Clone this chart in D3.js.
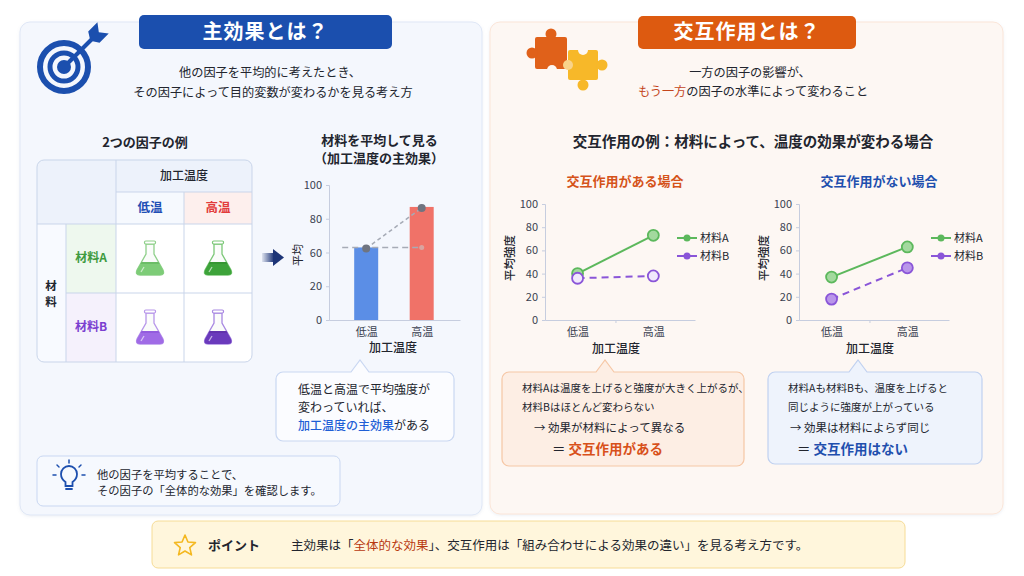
<!DOCTYPE html>
<html>
<head>
<meta charset="UTF-8">
<style>
  body { margin: 0; background: #fff; }
  svg { display: block; font-family: "Noto Sans CJK JP", "Noto Sans", sans-serif; }
  .axis path, .axis line { stroke: #c6cddf; }
  .axis text { font-family: "Noto Sans CJK JP", "Noto Sans", sans-serif; fill: #3a3f50; }
</style>
</head>
<body>
<script src="https://cdn.jsdelivr.net/npm/d3@7"></script>
<script>
// data
var levels = ["低温", "高温"];
var materials = ["材料A", "材料B"];
var mainMeans = [63, 87];
var mainTicks = [0, 20, 60, 80, 100];
var withA = [40, 73];
var withB = [36, 38];
var withoutA = [37, 63];
var withoutB = [18, 45];
var lineTicks = [0, 20, 40, 60, 80, 100];

var W = 1024, H = 576;
var svg = d3.select("body").append("svg").attr("width", W).attr("height", H);

var defs = svg.append("defs");
var sh = defs.append("filter").attr("id", "sh").attr("x", "-5%").attr("y", "-5%").attr("width", "110%").attr("height", "115%");
sh.append("feDropShadow").attr("dx", 0).attr("dy", 1).attr("stdDeviation", 1.5).attr("flood-color", "#8090b0").attr("flood-opacity", 0.15);
var ag = defs.append("linearGradient").attr("id", "arrowGrad");
ag.append("stop").attr("offset", "0%").attr("stop-color", "#1d3577").attr("stop-opacity", 0.1);
ag.append("stop").attr("offset", "100%").attr("stop-color", "#1d3577");

function rich(x, y, parts, o) {
  o = o || {};
  var t = svg.append("text").attr("x", x).attr("y", y)
    .attr("font-size", o.size || 12)
    .attr("text-anchor", o.anchor || "start")
    .attr("fill", o.fill || "#222")
    .attr("font-weight", o.weight || 400);
  if (o.ls) t.attr("letter-spacing", o.ls);
  parts.forEach(function (p) {
    var s = t.append("tspan").text(p[0]);
    if (p[1]) s.attr("fill", p[1]);
    if (p[2]) s.attr("font-weight", p[2]);
  });
  return t;
}
function label(x, y, str, o) { return rich(x, y, [[str]], o); }

function callout(x, y, w, h, tipX, fill, stroke) {
  var p = d3.path();
  var r = 7;
  p.moveTo(x + r, y);
  p.lineTo(tipX - 9, y); p.lineTo(tipX, y - 12); p.lineTo(tipX + 9, y);
  p.lineTo(x + w - r, y); p.arcTo(x + w, y, x + w, y + r, r);
  p.lineTo(x + w, y + h - r); p.arcTo(x + w, y + h, x + w - r, y + h, r);
  p.lineTo(x + r, y + h); p.arcTo(x, y + h, x, y + h - r, r);
  p.lineTo(x, y + r); p.arcTo(x, y, x + r, y, r);
  p.closePath();
  svg.append("path").attr("d", p.toString()).attr("fill", fill).attr("stroke", stroke).attr("stroke-width", 1.2);
}

// ---------------- left panel ----------------
svg.append("rect").attr("x", 20).attr("y", 22).attr("width", 462).attr("height", 493).attr("rx", 10)
  .attr("fill", "#f4f7fd").attr("stroke", "#dfe7f6").attr("filter", "url(#sh)");
svg.append("rect").attr("x", 139).attr("y", 15).attr("width", 253).attr("height", 34).attr("rx", 5).attr("fill", "#1b4fae");
label(265.5, 39, "主効果とは？", { size: 20, anchor: "middle", fill: "#fff", weight: 700, ls: 1 });
label(270, 77, "他の因子を平均的に考えたとき、", { size: 12.2, anchor: "middle", fill: "#22252e" });
label(273, 97, "その因子によって目的変数が変わるかを見る考え方", { size: 12.2, anchor: "middle", fill: "#22252e" });

// target icon
var tg = svg.append("g").attr("transform", "translate(64,67)");
tg.append("circle").attr("r", 24).attr("fill", "none").attr("stroke", "#1b4fae").attr("stroke-width", 6);
tg.append("circle").attr("r", 14).attr("fill", "none").attr("stroke", "#1b4fae").attr("stroke-width", 5);
tg.append("circle").attr("r", 7).attr("fill", "#1b4fae");
tg.append("line").attr("x1", 0).attr("y1", 0).attr("x2", 30).attr("y2", -30).attr("stroke", "#1b4fae").attr("stroke-width", 4).attr("stroke-linecap", "round");
tg.append("path").attr("transform", "translate(32,-32) rotate(-45)")
  .attr("d", "M-8,0 L-3,-8 L10,-8 L4,0 L10,8 L-3,8 Z").attr("fill", "#1b4fae");

// table
label(145, 147, "2つの因子の例", { size: 13, anchor: "middle", weight: 700, fill: "#22252e" });
defs.append("clipPath").attr("id", "tclip").append("rect").attr("x", 37).attr("y", 160).attr("width", 215).attr("height", 202).attr("rx", 7);
var tb = svg.append("g").attr("clip-path", "url(#tclip)");
tb.append("rect").attr("x", 37).attr("y", 160).attr("width", 215).attr("height", 202).attr("fill", "#fff");
tb.append("rect").attr("x", 37).attr("y", 160).attr("width", 79).attr("height", 64).attr("fill", "#edf2fb");
tb.append("rect").attr("x", 116).attr("y", 160).attr("width", 136).attr("height", 32).attr("fill", "#edf2fb");
tb.append("rect").attr("x", 116).attr("y", 192).attr("width", 68).attr("height", 32).attr("fill", "#f6f9fe");
tb.append("rect").attr("x", 184).attr("y", 192).attr("width", 68).attr("height", 32).attr("fill", "#fdefed");
tb.append("rect").attr("x", 37).attr("y", 224).attr("width", 29).attr("height", 138).attr("fill", "#f8faff");
tb.append("rect").attr("x", 66).attr("y", 224).attr("width", 50).attr("height", 69).attr("fill", "#eef8ee");
tb.append("rect").attr("x", 66).attr("y", 293).attr("width", 50).attr("height", 69).attr("fill", "#f5f1fc");
var gl = "#c9d5ea";
tb.append("line").attr("x1", 37).attr("x2", 252).attr("y1", 224).attr("y2", 224).attr("stroke", gl);
tb.append("line").attr("x1", 116).attr("x2", 252).attr("y1", 192).attr("y2", 192).attr("stroke", gl);
tb.append("line").attr("x1", 66).attr("x2", 252).attr("y1", 293).attr("y2", 293).attr("stroke", gl);
tb.append("line").attr("x1", 66).attr("x2", 66).attr("y1", 224).attr("y2", 362).attr("stroke", gl);
tb.append("line").attr("x1", 116).attr("x2", 116).attr("y1", 160).attr("y2", 362).attr("stroke", gl);
tb.append("line").attr("x1", 184).attr("x2", 184).attr("y1", 192).attr("y2", 362).attr("stroke", gl);
svg.append("rect").attr("x", 37).attr("y", 160).attr("width", 215).attr("height", 202).attr("rx", 7).attr("fill", "none").attr("stroke", gl);

label(184, 180, "加工温度", { size: 12, anchor: "middle", fill: "#22252e", weight: 500 });
label(150, 212, levels[0], { size: 12.5, anchor: "middle", fill: "#1f4fb5", weight: 700 });
label(218, 212, levels[1], { size: 12.5, anchor: "middle", fill: "#e23c3c", weight: 700 });
label(91, 262, materials[0], { size: 12, anchor: "middle", fill: "#3f9b3f", weight: 700 });
label(91, 331, materials[1], { size: 12, anchor: "middle", fill: "#7b3fd0", weight: 700 });
label(51, 290, "材", { size: 11.5, anchor: "middle", fill: "#22252e", weight: 700 });
label(51, 306, "料", { size: 11.5, anchor: "middle", fill: "#22252e", weight: 700 });

function flask(cx, cy, liquid, liquidDark, glassStroke) {
  var g = svg.append("g").attr("transform", "translate(" + cx + "," + cy + ")");
  g.append("path").attr("d", "M-4,-15 L-4,-5 L-13,11 Q-15,16 -10,16 L10,16 Q15,16 13,11 L4,-5 L4,-15 Z")
    .attr("fill", "#f7faf7").attr("fill-opacity", 0.6).attr("stroke", glassStroke).attr("stroke-width", 1.3);
  g.append("path").attr("d", "M-8.5,3 L-13,11 Q-15,16 -10,16 L10,16 Q15,16 13,11 L8.5,3 Z").attr("fill", liquid);
  g.append("path").attr("d", "M-8.5,3 L8.5,3 L9.6,5 L-9.6,5 Z").attr("fill", liquidDark).attr("opacity", 0.35);
  g.append("rect").attr("x", -5.5).attr("y", -18).attr("width", 11).attr("height", 3).attr("rx", 1.2)
    .attr("fill", "#fff").attr("stroke", glassStroke).attr("stroke-width", 1.2);
  g.append("line").attr("x1", -1.5).attr("y1", -12).attr("x2", -1.5).attr("y2", -4).attr("stroke", "#fff").attr("stroke-width", 1.2).attr("opacity", 0.9);
  g.append("line").attr("x1", -6).attr("y1", 8).attr("x2", -9).attr("y2", 13).attr("stroke", "#fff").attr("stroke-width", 1.3).attr("opacity", 0.6);
}
flask(150, 259, "#7dcc77", "#4aa047", "#8fd08a");
flask(218, 259, "#3da33a", "#2b7f29", "#7cc878");
flask(150, 328, "#a06be6", "#7a42cf", "#b796ea");
flask(218, 328, "#6a3abc", "#4f2592", "#a888e2");

// arrow
svg.append("rect").attr("x", 262).attr("y", 253).attr("width", 12).attr("height", 9).attr("fill", "url(#arrowGrad)");
svg.append("path").attr("d", "M273,249 L284,257.5 L273,266 Z").attr("fill", "#1d3577");

// bar chart of averaged means
label(379.5, 145, "材料を平均して見る", { size: 13, anchor: "middle", weight: 700, fill: "#22252e" });
label(379, 163, "（加工温度の主効果）", { size: 13, anchor: "middle", weight: 700, fill: "#22252e" });
var mb = 320, mt = 185;
var yMain = d3.scaleLinear().domain(mainTicks)
  .range(mainTicks.map(function (d, i) { return mb - i * (mb - mt) / (mainTicks.length - 1); }));
var xMain = d3.scaleLinear().domain([-0.67, 1.69]).range([329, 460]);
var bg = svg.append("g");
bg.append("g").attr("class", "axis").attr("transform", "translate(0," + mb + ")")
  .call(d3.axisBottom(xMain).tickValues([0, 1]).tickFormat(function (i) { return levels[i]; }).tickSize(0).tickPadding(8))
  .selectAll("text").attr("font-size", 11);
bg.append("g").attr("class", "axis").attr("transform", "translate(329,0)")
  .call(d3.axisLeft(yMain).tickValues(mainTicks).tickSize(3).tickPadding(4))
  .selectAll("text").attr("font-size", 11);
var barColors = ["#5b8ee6", "#f07268"];
bg.selectAll("rect.bar").data(mainMeans).enter().append("rect").attr("class", "bar")
  .attr("x", function (d, i) { return xMain(i) - 12; })
  .attr("width", 24)
  .attr("y", function (d) { return yMain(d); })
  .attr("height", function (d) { return mb - yMain(d); })
  .attr("fill", function (d, i) { return barColors[i]; });
bg.append("line").attr("x1", xMain(0) - 24).attr("x2", xMain(1) + 2)
  .attr("y1", yMain(mainMeans[0])).attr("y2", yMain(mainMeans[0]))
  .attr("stroke", "#a6abb6").attr("stroke-width", 1.5).attr("stroke-dasharray", "6,4");
bg.append("line").attr("x1", xMain(0)).attr("x2", xMain(1))
  .attr("y1", yMain(mainMeans[0]) + 1).attr("y2", yMain(mainMeans[1]) + 1)
  .attr("stroke", "#a6abb6").attr("stroke-width", 1.5).attr("stroke-dasharray", "4,3");
bg.append("circle").attr("cx", xMain(1)).attr("cy", yMain(mainMeans[0])).attr("r", 2.5).attr("fill", "#d9a4a0");
bg.selectAll("circle.pt").data(mainMeans).enter().append("circle").attr("class", "pt")
  .attr("cx", function (d, i) { return xMain(i); })
  .attr("cy", function (d) { return yMain(d) + 1; })
  .attr("r", 4).attr("fill", "#6f7480");
label(393, 352, "加工温度", { size: 12, anchor: "middle", fill: "#22252e", weight: 500 });
label(0, 0, "平均", { size: 11, anchor: "middle", fill: "#22252e" }).attr("transform", "translate(302,255) rotate(-90)");

// callout
callout(276, 372, 178, 69, 360, "#fbfcff", "#c9d7f2");
rich(298, 394, [["低温と高温で平均強度が"]], { size: 12, fill: "#22252e" });
rich(298, 412, [["変わっていれば、"]], { size: 12, fill: "#22252e" });
rich(298, 430, [["加工温度の主効果", "#1f5fd6", 500], ["がある"]], { size: 12, fill: "#22252e" });

// tip box
svg.append("rect").attr("x", 37).attr("y", 456).attr("width", 303).attr("height", 50).attr("rx", 6)
  .attr("fill", "#f6f9fe").attr("stroke", "#c9d7f2");
var bulb = svg.append("g").attr("transform", "translate(69,477)").attr("stroke", "#1d4fae").attr("fill", "none").attr("stroke-linecap", "round");
bulb.append("path").attr("d", "M-3.5,9 L-3.5,5 Q-8,2 -8,-3 A8,8 0 1 1 8,-3 Q8,2 3.5,5 L3.5,9 Z").attr("stroke-width", 1.8);
bulb.append("line").attr("x1", -3).attr("x2", 3).attr("y1", 12).attr("y2", 12).attr("stroke-width", 1.8);
bulb.append("line").attr("x1", 0).attr("x2", 0).attr("y1", -14).attr("y2", -17).attr("stroke-width", 1.5);
bulb.append("line").attr("x1", -10).attr("x2", -12).attr("y1", -10).attr("y2", -12).attr("stroke-width", 1.5);
bulb.append("line").attr("x1", 10).attr("x2", 12).attr("y1", -10).attr("y2", -12).attr("stroke-width", 1.5);
bulb.append("line").attr("x1", -13).attr("x2", -16).attr("y1", -2).attr("y2", -2).attr("stroke-width", 1.5);
bulb.append("line").attr("x1", 13).attr("x2", 16).attr("y1", -2).attr("y2", -2).attr("stroke-width", 1.5);
label(97, 479, "他の因子を平均することで、", { size: 11.3, fill: "#22252e" });
label(97, 495, "その因子の「全体的な効果」を確認します。", { size: 11.3, fill: "#22252e" });

// ---------------- right panel ----------------
svg.append("rect").attr("x", 490).attr("y", 22).attr("width", 513).attr("height", 492).attr("rx", 10)
  .attr("fill", "#fdf7f3").attr("stroke", "#fbe5d8").attr("filter", "url(#sh)");
svg.append("rect").attr("x", 638).attr("y", 16).attr("width", 218).attr("height", 33).attr("rx", 5).attr("fill", "#dd5a10");
label(747, 39, "交互作用とは？", { size: 20, anchor: "middle", fill: "#fff", weight: 700, ls: 1 });
label(750, 77, "一方の因子の影響が、", { size: 12.2, anchor: "middle", fill: "#22252e" });
rich(753, 96, [["もう一方", "#c4461c"], ["の因子の水準によって変わること"]], { size: 12.2, anchor: "middle", fill: "#22252e" });

// puzzle icon
var pz = svg.append("g");
pz.append("rect").attr("x", 535).attr("y", 37).attr("width", 32).attr("height", 32).attr("rx", 2).attr("fill", "#e0611a");
pz.append("circle").attr("cx", 551).attr("cy", 34).attr("r", 5.5).attr("fill", "#e0611a");
pz.append("circle").attr("cx", 532).attr("cy", 53).attr("r", 5.5).attr("fill", "#e0611a");
pz.append("circle").attr("cx", 552).attr("cy", 70).attr("r", 5).attr("fill", "#fdf7f3");
pz.append("rect").attr("x", 568).attr("y", 50).attr("width", 30).attr("height", 30).attr("rx", 2).attr("fill", "#f7b829");
pz.append("circle").attr("cx", 602).attr("cy", 65).attr("r", 5.5).attr("fill", "#f7b829");
pz.append("circle").attr("cx", 583).attr("cy", 85).attr("r", 5.5).attr("fill", "#f7b829");
pz.append("circle").attr("cx", 583).attr("cy", 50).attr("r", 5).attr("fill", "#fdf7f3");
pz.append("circle").attr("cx", 568).attr("cy", 65).attr("r", 5).attr("fill", "#f9d38a");

label(753, 147, "交互作用の例：材料によって、温度の効果が変わる場合", { size: 14.5, anchor: "middle", weight: 700, fill: "#22252e" });

var colA = "#5cb85c", colB = "#8a55d8";

function lineChart(x0, seriesA, seriesB, fillA, fillB, title, titleColor) {
  var y = d3.scaleLinear().domain([0, 100]).range([320, 204]);
  var x = d3.scaleLinear().domain([-0.43, 1.55]).range([x0, x0 + 150]);
  var g = svg.append("g");
  label(x0 + 80, 186, title, { size: 13, anchor: "middle", weight: 700, fill: titleColor });
  g.append("g").attr("class", "axis").attr("transform", "translate(0,320)")
    .call(d3.axisBottom(x).tickValues([0, 1]).tickFormat(function (i) { return levels[i]; }).tickSize(0).tickPadding(8))
    .selectAll("text").attr("font-size", 11);
  g.append("g").attr("class", "axis").attr("transform", "translate(0,320)")
    .call(d3.axisBottom(x).tickValues([0.5]).tickFormat("").tickSize(3))
    .select(".domain").remove();
  g.append("g").attr("class", "axis").attr("transform", "translate(" + x0 + ",0)")
    .call(d3.axisLeft(y).tickValues(lineTicks).tickSize(3).tickPadding(4))
    .selectAll("text").attr("font-size", 11);
  var line = d3.line().x(function (d, i) { return x(i); }).y(function (d) { return y(d); });
  g.append("path").datum(seriesA).attr("d", line).attr("fill", "none").attr("stroke", colA).attr("stroke-width", 2);
  g.append("path").datum(seriesB).attr("d", line).attr("fill", "none").attr("stroke", colB).attr("stroke-width", 2).attr("stroke-dasharray", "7,5");
  [[seriesA, fillA, colA], [seriesB, fillB, colB]].forEach(function (s) {
    g.selectAll(null).data(s[0]).enter().append("circle")
      .attr("cx", function (d, i) { return x(i); })
      .attr("cy", function (d) { return y(d); })
      .attr("r", 5.5).attr("fill", s[1]).attr("stroke", s[2]).attr("stroke-width", 1.8);
  });
  // legend
  materials.forEach(function (m, i) {
    var ly = 238 + i * 18, c = i === 0 ? colA : colB;
    g.append("line").attr("x1", x0 + 132).attr("x2", x0 + 152).attr("y1", ly).attr("y2", ly).attr("stroke", c).attr("stroke-width", 2);
    g.append("circle").attr("cx", x0 + 142).attr("cy", ly).attr("r", 3.5).attr("fill", c);
    label(x0 + 155, ly + 4, m, { size: 11, fill: "#22252e" });
  });
  label(x0 + 71, 353, "加工温度", { size: 12, anchor: "middle", fill: "#22252e", weight: 500 });
  label(0, 0, "平均強度", { size: 11.5, anchor: "middle", fill: "#22252e", weight: 500 })
    .attr("transform", "translate(" + (x0 - 31) + ",258) rotate(-90)");
}
lineChart(545, withA, withB, "#a3d99e", "#f1e9fc", "交互作用がある場合", "#d5531a");
lineChart(799, withoutA, withoutB, "#a3d99e", "#b996ea", "交互作用がない場合", "#1f4fae");

// callouts below line charts
callout(502, 372, 242, 94, 605, "#fdeee4", "#f6c7a5");
label(522, 392, "材料Aは温度を上げると強度が大きく上がるが、", { size: 10.5, fill: "#22252e" });
label(522, 411, "材料Bはほとんど変わらない", { size: 10.5, fill: "#22252e" });
label(534, 432, "→ 効果が材料によって異なる", { size: 11.5, fill: "#22252e" });
rich(552, 454, [["＝ ", "#22252e"], ["交互作用がある", "#d8501a", 700]], { size: 13.5 });

callout(768, 372, 214, 92, 858, "#eef3fc", "#c0d1f0");
label(788, 392, "材料Aも材料Bも、温度を上げると", { size: 10.5, fill: "#22252e" });
label(788, 411, "同じように強度が上がっている", { size: 10.5, fill: "#22252e" });
label(790, 432, "→ 効果は材料によらず同じ", { size: 11.5, fill: "#22252e" });
rich(797, 454, [["＝ ", "#22252e"], ["交互作用はない", "#1f4fae", 700]], { size: 13.5 });

// ---------------- bottom point ----------------
svg.append("rect").attr("x", 152).attr("y", 521).attr("width", 753).attr("height", 47).attr("rx", 6)
  .attr("fill", "#fff6dc").attr("stroke", "#f6dc96");
var star = d3.range(10).map(function (i) {
  var r = i % 2 === 0 ? 11 : 5, a = -Math.PI / 2 + i * Math.PI / 5;
  return [185 + r * Math.cos(a), 546 + r * Math.sin(a)];
});
svg.append("path").attr("d", d3.line()(star) + "Z").attr("fill", "#fff6dc").attr("stroke", "#f4b820").attr("stroke-width", 1.6).attr("stroke-linejoin", "round");
label(208, 550, "ポイント", { size: 13, weight: 700, fill: "#22252e" });
rich(291, 550, [["主効果は「"], ["全体的な効果", "#b8380f"], ["」、交互作用は「組み合わせによる効果の違い」を見る考え方です。"]], { size: 12.5, fill: "#22252e" });
</script>
</body>
</html>
